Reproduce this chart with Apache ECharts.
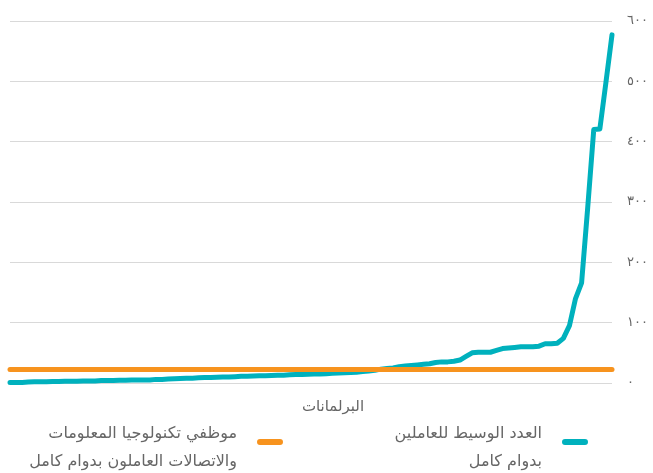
<!DOCTYPE html>
<html>
<head>
<meta charset="utf-8">
<script src="https://cdn.jsdelivr.net/npm/echarts@6/dist/echarts.min.js"></script>
<style>
  html, body { margin: 0; padding: 0; background: #fff; }
  #chart { width: 653px; height: 473px; }
</style>
</head>
<body>
<div id="chart"></div>
<script>
  // المتوسط لكل برلمان، مرتبة تصاعديا
  const medianStaff = [
    1, 1, 1, 1.5, 2, 2, 2, 2.5, 2.5, 3,
    3, 3, 3.5, 3.5, 3.5, 4, 4, 4, 4.5, 4.5,
    5, 5, 5, 5, 6, 6, 6.5, 7, 7.5, 8,
    8, 8.5, 9, 9, 9.5, 10, 10, 10.5, 11, 11,
    11.5, 12, 12, 12.5, 13, 13, 13.5, 14, 14, 14.5,
    15, 15, 15.5, 16, 16.5, 17, 17.5, 18, 19, 20,
    21, 23, 24, 25, 27, 28, 29, 30, 31, 32,
    34, 35, 35, 36, 38, 44, 50, 51, 51, 51,
    54, 57, 58, 59, 60, 60, 60, 61, 65, 65,
    66, 74, 95, 140, 166, 290, 420, 421, 498, 577
  ];
  const parliaments = medianStaff.map((v, i) => String(i + 1));
  const itStaff = 23;
  const yTickLabels = ['٠', '١٠٠', '٢٠٠', '٣٠٠', '٤٠٠', '٥٠٠', '٦٠٠'];

  const nameMedian = 'العدد الوسيط للعاملين\nبدوام كامل';
  const nameIT = 'موظفي تكنولوجيا المعلومات\nوالاتصالات العاملون بدوام كامل';
  const font = 'DejaVu Sans';
  const grey = '#666666';

  // شريط مدور في أعلى مربع الأيقونة، لرفعه قليلا فوق منتصف النص
  const barIcon = 'path://M3,0 L23,0 A3,3 0 0 1 23,6 L3,6 A3,3 0 0 1 3,0 Z M0,18 L0.01,18 Z';

  const chart = echarts.init(document.getElementById('chart'));
  const legendBase = {
    top: 415,
    align: 'right',
    icon: barIcon,
    itemWidth: 26,
    itemHeight: 18,
    textStyle: { color: grey, fontSize: 16, lineHeight: 28, fontFamily: font, padding: [0, 15, 0, 0] },
    selectedMode: false
  };
  chart.setOption({
    animation: false,
    grid: { left: 10, right: 41, top: 21, bottom: 90 },
    legend: [
      Object.assign({}, legendBase, { right: 60, data: [nameMedian] }),
      Object.assign({}, legendBase, { right: 365, data: [nameIT] })
    ],
    xAxis: {
      type: 'category',
      data: parliaments,
      boundaryGap: false,
      name: 'البرلمانات',
      nameLocation: 'middle',
      nameGap: 17,
      nameTextStyle: { color: grey, fontSize: 15, fontFamily: font, padding: [0, 0, 0, 44] },
      axisLine: { show: false },
      axisTick: { show: false },
      axisLabel: { show: false }
    },
    yAxis: {
      type: 'value',
      position: 'right',
      min: 0,
      max: 600,
      interval: 100,
      axisLine: { show: false },
      axisTick: { show: false },
      axisLabel: {
        margin: 15,
        color: grey,
        fontSize: 13,
        fontFamily: font,
        formatter: v => yTickLabels[v / 100]
      },
      splitLine: { lineStyle: { color: '#d9d9d9', width: 1 } }
    },
    series: [
      {
        name: nameMedian,
        type: 'line',
        data: medianStaff,
        symbol: 'none',
        color: '#00b1bd',
        lineStyle: { width: 5, cap: 'round', join: 'round' },
        z: 3
      },
      {
        name: nameIT,
        type: 'line',
        data: [],
        symbol: 'none',
        color: '#f7931e',
        lineStyle: { width: 5 },
        markLine: {
          silent: true,
          symbol: 'none',
          label: { show: false },
          lineStyle: { color: '#f7931e', width: 5, type: 'solid', cap: 'round' },
          data: [{ yAxis: itStaff }]
        },
        z: 2
      }
    ]
  });
</script>
</body>
</html>
